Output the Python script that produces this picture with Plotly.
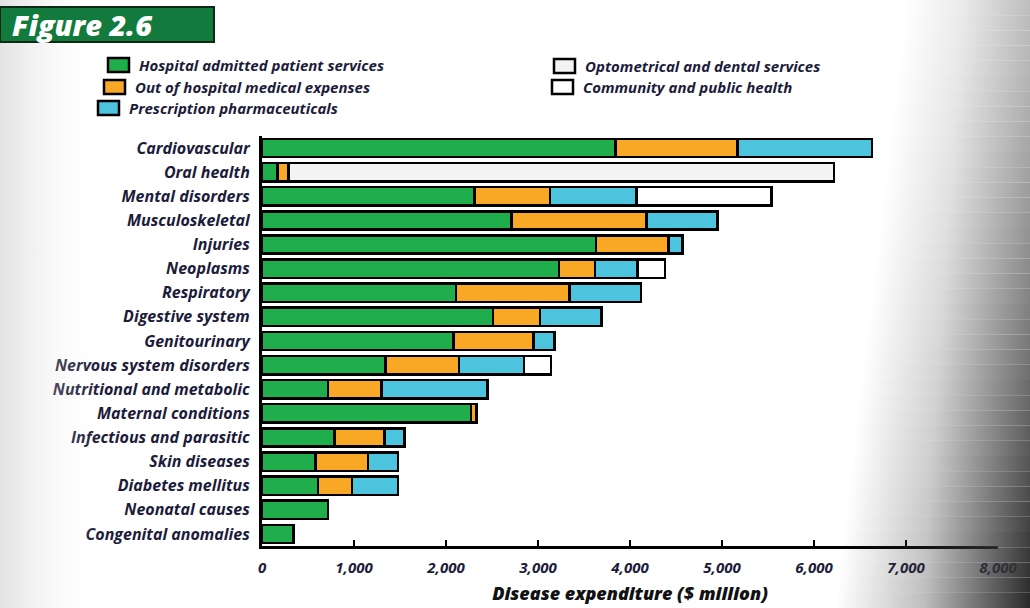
import plotly.graph_objects as go

# Disease expenditure by area of expenditure ($ million)
categories = [
    "Cardiovascular", "Oral health", "Mental disorders", "Musculoskeletal",
    "Injuries", "Neoplasms", "Respiratory", "Digestive system", "Genitourinary",
    "Nervous system disorders", "Nutritional and metabolic", "Maternal conditions",
    "Infectious and parasitic", "Skin diseases", "Diabetes mellitus",
    "Neonatal causes", "Congenital anomalies",
]
hospital = [3840, 170, 2310, 2710, 3630, 3230, 2110, 2510, 2080, 1340, 720, 2270, 790, 580, 610, 720, 340]
out_of_hospital = [1330, 120, 820, 1470, 790, 390, 1230, 510, 870, 800, 580, 60, 540, 570, 370, None, None]
prescription = [1460, None, 940, 770, 150, 460, 780, 670, 230, 710, 1150, None, 220, 330, 500, None, None]
optometrical_dental = [None, 5930, None, None, None, None, None, None, None, None, None, None, None, None, None, None, None]
community_public = [None, None, 1470, None, None, 300, None, None, None, 290, None, None, None, None, None, None, None]

series_names = [
    "Hospital admitted patient services",
    "Out of hospital medical expenses",
    "Prescription pharmaceuticals",
    "Optometrical and dental services",
    "Community and public health",
]
series_values = [hospital, out_of_hospital, prescription, optometrical_dental, community_public]
series_colors = ["#1fae4b", "#f9a825", "#4cc4de", "#f3f3f3", "#ffffff"]

W_PX, H_PX = 1030, 608
PLOT_L, PLOT_R, PLOT_T, PLOT_B = 262, 998, 136, 546


def fx(px):
    return px / W_PX


def fy(py):
    return 1 - py / H_PX


TEXT_COLOR = "#1c1c3a"
FONT = "Open Sans"

fig = go.Figure()
for name, vals, col in zip(series_names, series_values, series_colors):
    fig.add_trace(go.Bar(
        y=categories, x=vals, name=name, orientation="h",
        marker=dict(color=col, line=dict(color="#000000", width=2.5)),
        showlegend=False, xaxis="x", yaxis="y",
    ))

# page shading: horizontal bands that darken toward the right edge,
# getting deeper toward the bottom of the page
n_bands = 40
for i in range(n_bands):
    t = (i + 0.5) / n_bands                 # 0 at top, 1 at bottom
    edge = int(190 - 150 * t ** 1.3)        # grey level reached at the right edge
    x_start = fx(905 - 70 * t)
    y_top, y_bot = 1 - i / n_bands, 1 - (i + 1) / n_bands
    fig.add_trace(go.Scatter(
        x=[x_start, 1, 1, x_start, x_start], y=[y_bot, y_bot, y_top, y_top, y_bot],
        mode="lines", line=dict(width=0), fill="toself", hoverinfo="skip",
        fillgradient=dict(type="horizontal", colorscale=[
            [0.0, f"rgba({edge},{edge},{edge},0)"],
            [0.45, f"rgba({edge},{edge},{edge},0.3)"],
            [0.8, f"rgba({edge},{edge},{edge},0.75)"],
            [1.0, f"rgba({edge},{edge},{edge},1)"],
        ]),
        showlegend=False, xaxis="x2", yaxis="y2",
    ))
fig.add_trace(go.Scatter(
    x=[0, 0.1, 0.1, 0, 0], y=[0, 0, 1, 1, 0],
    mode="lines", line=dict(width=0), fill="toself", hoverinfo="skip",
    fillgradient=dict(type="horizontal", colorscale=[
        [0.0, "rgba(190,190,190,0.45)"],
        [1.0, "rgba(255,255,255,0)"],
    ]),
    showlegend=False, xaxis="x2", yaxis="y2",
))

shapes = []
annotations = []

# figure badge
shapes.append(dict(type="rect", xref="paper", yref="paper",
                   x0=fx(0), x1=fx(214), y0=fy(42), y1=fy(7),
                   fillcolor="#127a3c", line=dict(color="#0a2a14", width=2)))
annotations.append(dict(xref="paper", yref="paper", x=fx(10), y=fy(24),
                        xanchor="left", yanchor="middle", showarrow=False,
                        text="Figure 2.6",
                        font=dict(family=FONT, size=29, color="#ffffff",
                                  weight=800, style="italic")))

# legend: two columns of boxes with labels
legend_pos = [(108, 65), (104, 87), (98, 108), (554, 66), (552, 87)]
for (lx, ly), name, col in zip(legend_pos, series_names, series_colors):
    shapes.append(dict(type="rect", xref="paper", yref="paper",
                       x0=fx(lx), x1=fx(lx + 21), y0=fy(ly + 7), y1=fy(ly - 7),
                       fillcolor=col, line=dict(color="#000000", width=2.5)))
    annotations.append(dict(xref="paper", yref="paper", x=fx(lx + 29), y=fy(ly),
                            xanchor="left", yanchor="middle", showarrow=False,
                            text=name,
                            font=dict(family=FONT, size=15, color=TEXT_COLOR,
                                      style="italic", weight=700)))

fig.update_layout(
    width=W_PX, height=H_PX,
    margin=dict(l=0, r=0, t=0, b=0, autoexpand=False),
    barmode="stack", bargap=0.24,
    paper_bgcolor="#ffffff", plot_bgcolor="rgba(0,0,0,0)",
    shapes=shapes, annotations=annotations,
    xaxis=dict(
        domain=[fx(PLOT_L), fx(PLOT_R)], anchor="y",
        range=[0, 8000], dtick=1000, tickformat=",", showgrid=False, zeroline=False,
        showline=True, linecolor="#000000", linewidth=2.5,
        ticks="inside", ticklen=6, tickwidth=2, tickcolor="#000000",
        ticklabelstandoff=6,
        tickfont=dict(family=FONT, size=15, color=TEXT_COLOR, style="italic", weight=700),
        title=dict(text="Disease expenditure ($ million)", standoff=12,
                   font=dict(family=FONT, size=18, color="#111111", style="italic", weight=800)),
    ),
    yaxis=dict(
        domain=[fy(PLOT_B), fy(PLOT_T)], anchor="x",
        autorange="reversed", showgrid=False, zeroline=False,
        showline=True, linecolor="#000000", linewidth=3, ticks="",
        ticklabelstandoff=6,
        tickfont=dict(family=FONT, size=16, color=TEXT_COLOR, style="italic", weight=700),
    ),
    xaxis2=dict(domain=[0, 1], range=[0, 1], anchor="y2", visible=False, fixedrange=True),
    yaxis2=dict(domain=[0, 1], range=[0, 1], anchor="x2", visible=False, fixedrange=True),
)

fig.write_html("out.html")
